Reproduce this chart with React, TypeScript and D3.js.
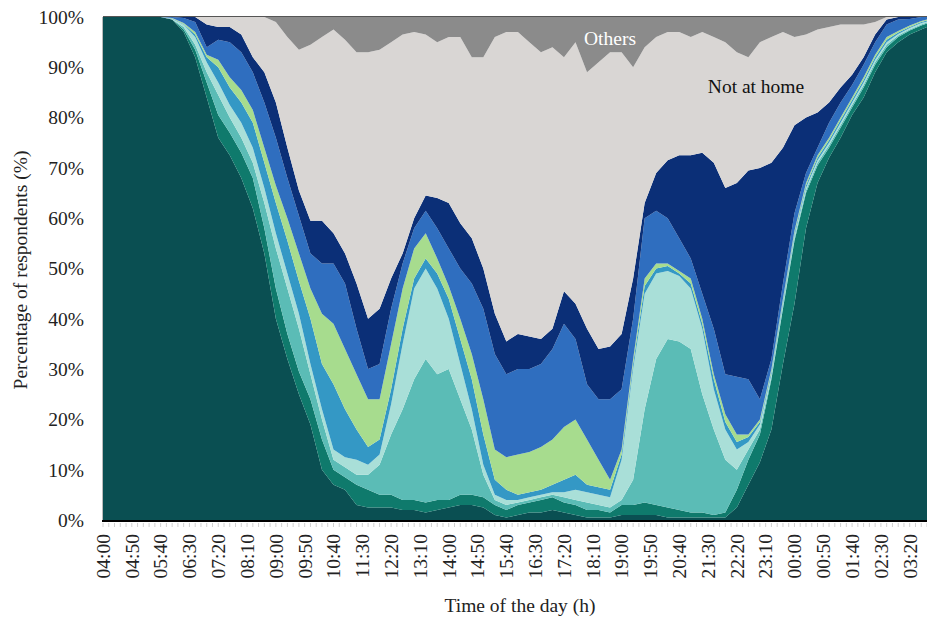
import React from 'react';
import * as d3 from 'd3';

// time of day, 20-min steps (last step 10 min)
const times = [
  '04:00', '04:20', '04:40', '05:00', '05:20', '05:40', '06:00', '06:20', '06:40', '07:00',
  '07:20', '07:40', '08:00', '08:20', '08:40', '09:00', '09:20', '09:40', '10:00', '10:20',
  '10:40', '11:00', '11:20', '11:40', '12:00', '12:20', '12:40', '13:00', '13:20', '13:40',
  '14:00', '14:20', '14:40', '15:00', '15:20', '15:40', '16:00', '16:20', '16:40', '17:00',
  '17:20', '17:40', '18:00', '18:20', '18:40', '19:00', '19:20', '19:40', '20:00', '20:20',
  '20:40', '21:00', '21:20', '21:40', '22:00', '22:20', '22:40', '23:00', '23:20', '23:40',
  '00:00', '00:20', '00:40', '01:00', '01:20', '01:40', '02:00', '02:20', '02:40', '03:00',
  '03:20', '03:40', '03:50',
];

// share of respondents (%) per activity layer, bottom to top
const darkTeal = [
  100, 100, 100, 100, 100, 100, 99.5, 97, 92, 84,
  76, 72.5, 68, 62, 53, 40, 32, 25, 19, 10,
  7, 6, 3, 2.5, 2.5, 2.5, 2, 2, 1.5, 2,
  2.5, 3, 3, 2.5, 1, 0.5, 1, 1.5, 1.5, 2,
  1.5, 1, 0.5, 0.5, 0.5, 1, 1, 1, 1, 0.5,
  0.5, 0.5, 0.5, 0.5, 0.5, 2.5, 7, 11.5, 18, 31,
  43, 58, 67, 72, 76, 80.5, 84, 89, 93, 95,
  96.5, 97.5, 98,
];
const teal = [
  0, 0, 0, 0, 0, 0, 0, 0.5, 1.5, 3,
  4.5, 4.5, 5, 6, 5, 6, 5, 4.5, 5, 6,
  3, 2.5, 4, 3.5, 2.5, 2.5, 2, 2, 2, 2,
  1.5, 2, 2, 2, 2, 1.5, 2, 2, 2.5, 2.5,
  2, 2, 1.5, 1.5, 1, 2, 2, 2.5, 2, 2,
  1.5, 1, 1, 0.5, 1, 3.5, 5, 5.5, 10, 11,
  12.5, 7, 3.5, 2, 2, 1.5, 2, 1.5, 1, 1,
  0.8, 0.8, 0.7,
];
const aqua = [
  0, 0, 0, 0, 0, 0, 0, 0.5, 1, 2,
  4, 3, 3, 3, 5, 8, 9, 8.5, 5, 4,
  2, 2, 2, 3, 6, 12, 18, 24, 28.5, 25,
  26, 19, 13, 4.5, 1, 1, 0.5, 0.5, 0.5, 0.5,
  1, 1, 1.5, 1, 1, 1, 5, 18.5, 29, 33.5,
  33.5, 32.5, 23.5, 17, 10.5, 4, 2, 1, 0.5, 0.5,
  0.5, 0.5, 0.5, 0.5, 0.5, 0.5, 0.5, 0.5, 0.5, 0.3,
  0.2, 0.2, 0.2,
];
const lightAqua = [
  0, 0, 0, 0, 0, 0, 0.1, 0.5, 1.5, 2,
  2.5, 2.5, 3, 3, 3, 3, 3, 3, 2, 2,
  2, 2, 3, 2, 2, 6, 13, 18, 18, 17,
  10, 7, 4, 2, 1, 1, 0.5, 0.5, 0.5, 0.5,
  1, 2, 2, 2, 2, 8, 22, 23, 17, 13.5,
  13, 12, 13, 8, 6, 4, 1.5, 1, 0.5, 0.5,
  0.5, 0.5, 0.5, 0.5, 0.5, 0.5, 0.5, 0.5, 0.5, 0.3,
  0.3, 0.3, 0.2,
];
const cerulean = [
  0, 0, 0, 0, 0, 0, 0.1, 0.1, 0.5, 1,
  3, 3.5, 4, 5, 5, 6, 6.5, 6.5, 9, 9,
  13, 9.5, 6, 3.5, 3, 3, 3, 2, 2, 3,
  4, 5, 6, 6, 3, 2, 1, 1, 1, 1.5,
  2.5, 3, 1.5, 1.5, 1.5, 1, 1, 1.5, 1, 1,
  0.5, 1, 1, 2, 1.5, 1.5, 1, 0.5, 0.5, 0.5,
  0.5, 0.5, 0.5, 0.5, 0.5, 0.5, 0.5, 0.5, 0.5, 0.3,
  0.2, 0.2, 0.2,
];
const lightGreen = [
  0, 0, 0, 0, 0, 0, 0.1, 0.2, 0.5, 0.5,
  1.5, 2, 2.5, 2.5, 3, 3.5, 4.5, 5.5, 6, 10,
  12, 12, 11, 9.5, 8, 9, 8, 6, 5, 3,
  2.5, 4, 5, 7, 6, 6.5, 8, 8, 8.5, 9,
  10.5, 11, 9, 5.5, 2, 1, 1, 1.5, 1, 0.5,
  0.5, 1, 1, 1, 1.5, 1.5, 0.5, 0.5, 0.5, 0.5,
  0.5, 0.5, 0.5, 0.5, 0.5, 0.5, 0.5, 0.5, 0.5, 0.3,
  0.3, 0.2, 0.2,
];
const blue = [
  0, 0, 0, 0, 0, 0, 0.2, 1, 2, 1.5,
  4, 7, 7.5, 7.5, 9, 9.5, 8, 7.5, 7, 10,
  12, 13, 9, 6, 7, 7, 5, 4, 4.5, 6,
  7.5, 10, 14, 18, 19, 16.5, 17, 16.5, 16.5, 18,
  20.5, 16, 11, 12, 16, 12, 8, 12, 10.5, 9,
  6.5, 4, 5, 9, 8, 11.5, 11, 4, 2, 3,
  3.5, 2, 1.5, 3, 3, 2.5, 2.5, 2.5, 2.5, 2.3,
  1.3, 0.8, 0.5,
];
const navy = [
  0, 0, 0, 0, 0, 0, 0, 0.2, 1, 4.5,
  2.5, 3, 3.5, 3, 6, 7, 6, 5, 6.5, 8.5,
  6, 6, 9, 10, 11, 6, 2, 2, 3, 6,
  9, 9, 9, 8, 8, 6.5, 7, 6.5, 5, 4,
  6.5, 7, 11, 10, 10.5, 11, 8, 3, 7.5, 11.5,
  16.5, 20.5, 28, 33, 37, 38.5, 41.5, 46, 39, 27,
  17.5, 11, 7, 4, 3, 2, 1.5, 1.5, 1, 0.5,
  0.4, 0, 0,
];
const notAtHome = [
  0, 0, 0, 0, 0, 0, 0, 0, 0, 1.5,
  2, 2, 3.5, 8, 11, 16, 22, 28, 35, 36.5,
  40.5, 42.5, 46, 53, 51.5, 47, 43.5, 37, 32, 31,
  33, 37, 36, 42, 55, 61.5, 60, 58.5, 57, 56,
  46.5, 52, 51, 57, 58.5, 56, 42, 31, 27, 25.5,
  24.5, 23.5, 24, 25, 29, 26, 22.5, 25, 25, 23,
  17.5, 16.5, 16.5, 15, 12.5, 10, 6.5, 2.5, 0.5, 0,
  0, 0, 0,
];
const others = [
  0, 0, 0, 0, 0, 0, 0, 0, 0, 0,
  0, 0, 0, 0, 0, 1, 4, 6.5, 5.5, 4,
  2.5, 4.5, 7, 7, 6.5, 5, 3.5, 3, 3.5, 5,
  4, 4, 8, 8, 4, 3, 3, 5, 7, 6,
  8, 5, 11, 9, 7, 7, 10, 6, 4, 3,
  3, 4, 3, 4, 5, 7, 8, 5, 4, 3,
  4, 3.5, 2.5, 2, 1.5, 1.5, 1.5, 1, 0, 0,
  0, 0, 0,
];

const xTickLabels = [
  '04:00', '04:50', '05:40', '06:30', '07:20', '08:10', '09:00', '09:50', '10:40', '11:30',
  '12:20', '13:10', '14:00', '14:50', '15:40', '16:30', '17:20', '18:10', '19:00', '19:50',
  '20:40', '21:30', '22:20', '23:10', '00:00', '00:50', '01:40', '02:30', '03:20',
];
const yTicks = [0, 10, 20, 30, 40, 50, 60, 70, 80, 90, 100];

const layers = [
  { key: 'darkTeal', values: darkTeal, color: '#0a4f52' },
  { key: 'teal', values: teal, color: '#0f7a6c' },
  { key: 'aqua', values: aqua, color: '#5bbcb6' },
  { key: 'lightAqua', values: lightAqua, color: '#a9dfd8' },
  { key: 'cerulean', values: cerulean, color: '#3498c5' },
  { key: 'lightGreen', values: lightGreen, color: '#a7dc8e' },
  { key: 'blue', values: blue, color: '#2f6ebf' },
  { key: 'navy', values: navy, color: '#0b2f77' },
  { key: 'notAtHome', values: notAtHome, color: '#d9d6d4' },
  { key: 'others', values: others, color: '#8b8b8b' },
];

const FONT = '"Liberation Serif", "Times New Roman", serif';

// minutes since 04:00
const toMinutes = (t: string) => {
  const [h, m] = t.split(':').map(Number);
  return ((h - 4 + 24) % 24) * 60 + m;
};

export default function App() {
  const width = 927;
  const height = 620;
  const left = 103;
  const right = 927;
  const top = 17;
  const bottom = 520;

  const x = d3.scaleLinear().domain([0, 1430]).range([left, right]);
  const y = d3.scaleLinear().domain([0, 1]).range([bottom, top]);

  const rows = times.map((t, i) => {
    const row: any = { t: toMinutes(t) };
    layers.forEach(l => { row[l.key] = l.values[i]; });
    return row;
  });

  const series = d3.stack<any>()
    .keys(layers.map(l => l.key))
    .offset(d3.stackOffsetExpand)(rows);

  const area = d3.area<any>()
    .x(d => x(d.data.t))
    .y0(d => y(d[0]))
    .y1(d => y(d[1]));

  const minorTicks = d3.range(0, 1440, 10);

  return (
    <svg width={width} height={height} style={{ position: 'absolute', left: 0, top: 0, background: '#fff' }}>
      <g>
        {series.map((s, i) => (
          <path key={s.key} d={area(s) || ''} fill={layers[i].color} />
        ))}
      </g>

      {/* frame */}
      <line x1={left} x2={right} y1={top - 0.5} y2={top - 0.5} stroke="#555" strokeWidth={1} />
      <line x1={left - 0.5} x2={left - 0.5} y1={top} y2={bottom} stroke="#bbb" strokeWidth={1} />
      <line x1={left - 1} x2={right} y1={bottom + 1} y2={bottom + 1} stroke="#000" strokeWidth={2} />
      {minorTicks.map(m => (
        <line key={m} x1={x(m)} x2={x(m)} y1={bottom + 3} y2={bottom + 7} stroke="#d0d0d0" strokeWidth={1} />
      ))}

      {/* y axis labels */}
      {yTicks.map(v => (
        <text key={v} x={84} y={y(v / 100)} dy="0.35em" textAnchor="end"
          fontFamily={FONT} fontSize={19.5} fill="#222">{`${v}%`}</text>
      ))}

      {/* x axis labels */}
      {xTickLabels.map(t => (
        <text key={t} transform={`translate(${x(toMinutes(t))},534) rotate(-90)`}
          dy="0.35em" textAnchor="end" fontFamily={FONT} fontSize={19.5} fill="#222">{t}</text>
      ))}

      <text x={520} y={612} textAnchor="middle" fontFamily={FONT} fontSize={19.5} fill="#222">
        Time of the day (h)
      </text>
      <text transform={`translate(27,270) rotate(-90)`} textAnchor="middle" fontFamily={FONT}
        fontSize={19.5} fill="#222">Percentage of respondents (%)</text>

      <text x={610} y={45} textAnchor="middle" fontFamily={FONT} fontSize={19.5} fill="#fff">Others</text>
      <text x={756} y={93} textAnchor="middle" fontFamily={FONT} fontSize={19.5} fill="#111">Not at home</text>
    </svg>
  );
}
